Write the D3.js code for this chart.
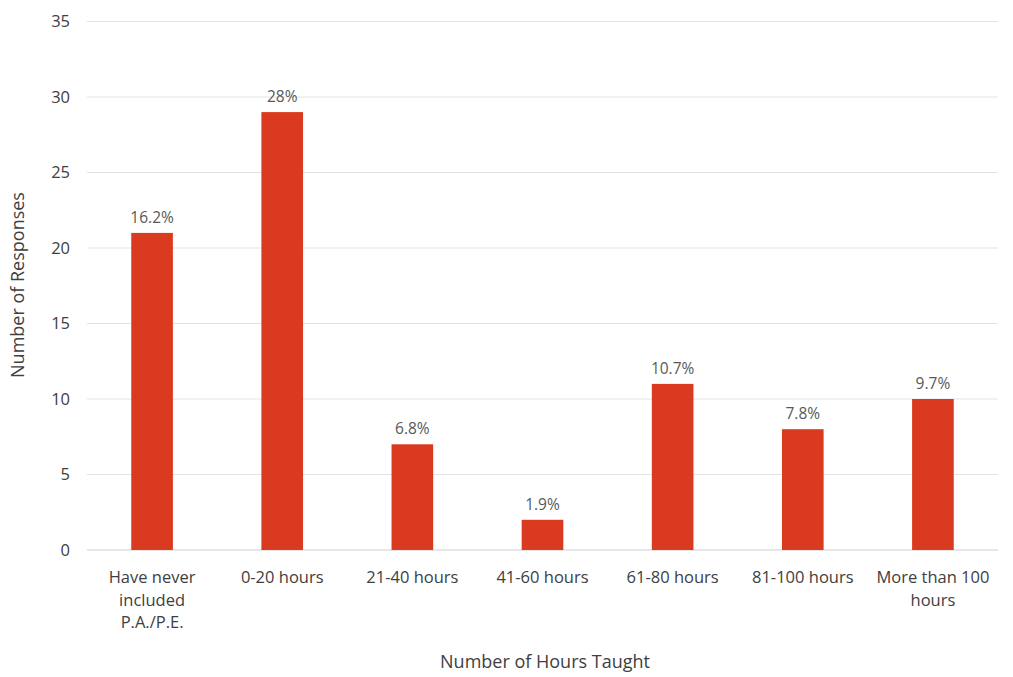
<!DOCTYPE html>
<html>
<head>
<meta charset="utf-8">
<script src="https://cdn.jsdelivr.net/npm/d3@7"></script>
<style>
  body { margin: 0; background: #fff; }
  svg { display: block; font-family: "Open Sans", "Liberation Sans", sans-serif; }
</style>
</head>
<body>
<svg id="chart" width="1013" height="677"></svg>
<script>
const categories = [
  ["Have never", "included", "P.A./P.E."],
  ["0-20 hours"],
  ["21-40 hours"],
  ["41-60 hours"],
  ["61-80 hours"],
  ["81-100 hours"],
  ["More than 100", "hours"]
];
const values = [21, 29, 7, 2, 11, 8, 10];
const percentLabels = ["16.2%", "28%", "6.8%", "1.9%", "10.7%", "7.8%", "9.7%"];
const yTicks = [0, 5, 10, 15, 20, 25, 30, 35];
const xTitle = "Number of Hours Taught";
const yTitle = "Number of Responses";

(function () {
const svg = d3.select("#chart");
const mLeft = 87, mRight = 998, mTop = 21.5, mBottom = 550;

const x = d3.scaleBand()
  .domain(d3.range(values.length))
  .range([mLeft, mRight])
  .paddingInner(0.68)
  .paddingOuter(0.34);

const y = d3.scaleLinear().domain([0, 35]).range([mBottom, mTop]);

// gridlines
svg.append("g")
  .selectAll("line")
  .data(yTicks)
  .join("line")
  .attr("x1", mLeft).attr("x2", mRight)
  .attr("y1", d => y(d)).attr("y2", d => y(d))
  .attr("stroke", d => d === 0 ? "#d0d0d0" : "#e3e3e3")
  .attr("stroke-width", 1);

// y tick labels
const yAxis = d3.axisLeft(y).tickValues(yTicks).tickSize(0).tickPadding(0);
const yg = svg.append("g").attr("transform", `translate(${70},0)`).call(yAxis);
yg.select(".domain").remove();
yg.selectAll("text")
  .attr("font-size", 16.5)
  .attr("fill", "#404040")
  .attr("font-family", "'Open Sans', sans-serif");

// bars
svg.append("g")
  .selectAll("rect")
  .data(values)
  .join("rect")
  .attr("x", (d, i) => x(i))
  .attr("y", d => y(d))
  .attr("width", x.bandwidth())
  .attr("height", d => y(0) - y(d))
  .attr("fill", "#DA3A1F");

// value labels
svg.append("g")
  .selectAll("text")
  .data(values)
  .join("text")
  .attr("x", (d, i) => x(i) + x.bandwidth() / 2)
  .attr("y", d => y(d) - 10)
  .attr("text-anchor", "middle")
  .attr("font-size", 15.5)
  .attr("fill", "#595959")
  .text((d, i) => percentLabels[i]);

// category labels
const cg = svg.append("g");
categories.forEach((lines, i) => {
  const t = cg.append("text")
    .attr("x", x(i) + x.bandwidth() / 2)
    .attr("y", 583)
    .attr("text-anchor", "middle")
    .attr("font-size", 16.5)
    .attr("fill", "#404040");
  lines.forEach((ln, j) => {
    t.append("tspan")
      .attr("x", x(i) + x.bandwidth() / 2)
      .attr("dy", j === 0 ? 0 : 22.5)
      .text(ln);
  });
});

// axis titles
svg.append("text")
  .attr("x", 545).attr("y", 668)
  .attr("text-anchor", "middle")
  .attr("font-size", 18)
  .attr("fill", "#404040")
  .text(xTitle);

svg.append("text")
  .attr("transform", `translate(24,285) rotate(-90)`)
  .attr("text-anchor", "middle")
  .attr("font-size", 18)
  .attr("fill", "#404040")
  .text(yTitle);
})();
</script>
</body>
</html>
